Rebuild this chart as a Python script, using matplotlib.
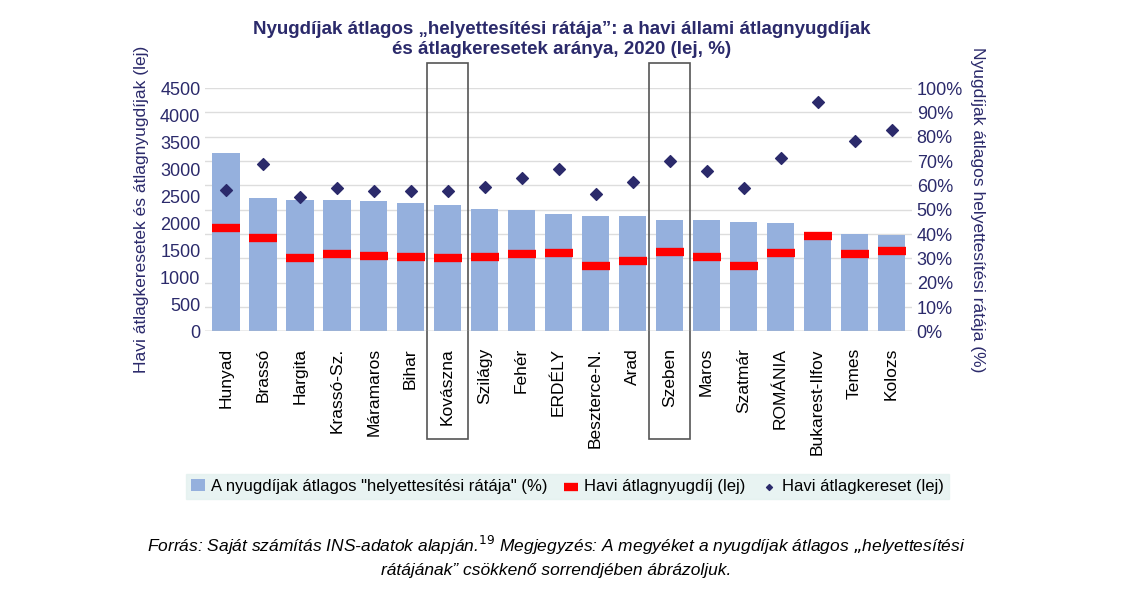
import matplotlib.pyplot as plt
import numpy as np
from matplotlib.patches import Rectangle

plt.rcParams["font.family"] = "Liberation Sans"

categories = ["Hunyad", "Brassó", "Hargita", "Krassó-Sz.", "Máramaros", "Bihar", "Kovászna",
              "Szilágy", "Fehér", "ERDÉLY", "Beszterce-N.", "Arad", "Szeben", "Maros",
              "Szatmár", "ROMÁNIA", "Bukarest-Ilfov", "Temes", "Kolozs"]
rate_pct = [73.3, 54.9, 54.0, 54.0, 53.6, 52.9, 51.8, 50.4, 50.0, 48.2, 47.3, 47.3, 45.8,
            45.8, 44.9, 44.4, 40.7, 40.2, 39.8]
pension = [1910, 1720, 1350, 1430, 1400, 1380, 1350, 1370, 1430, 1450, 1210, 1310, 1470,
           1370, 1210, 1450, 1770, 1430, 1490]
salary = [2620, 3100, 2490, 2650, 2600, 2600, 2590, 2680, 2840, 3000, 2550, 2760, 3160,
          2970, 2650, 3210, 4250, 3530, 3730]
boxed = ["Kovászna", "Szeben"]

navy = "#2b2a6b"
fig = plt.figure(figsize=(11.47, 6.08), dpi=100)
ax = fig.add_axes([0.179, 0.455, 0.616, 0.40])
ax2 = ax.twinx()
x = np.arange(len(categories))

ax2.bar(x, rate_pct, width=0.75, color="#95b0dd", zorder=1, label='A nyugdíjak átlagos "helyettesítési rátája" (%)')
ax2.set_ylim(0, 100)
ax.set_zorder(ax2.get_zorder() + 1)
ax.patch.set_visible(False)
ax.scatter(x, pension, marker="_", s=420, linewidths=6, color="#ff0000", label="Havi átlagnyugdíj (lej)")
ax.scatter(x, salary, marker="D", s=36, color=navy, label="Havi átlagkereset (lej)")
ax.set_ylim(0, 4500)
ax.set_xlim(-0.55, len(categories) - 0.45)
ax.set_yticks(range(0, 4501, 500))
ax2.set_yticks(range(0, 101, 10))
ax2.set_yticklabels([f"{v}%" for v in range(0, 101, 10)])
ax.set_xticks(x)
ax.set_xticklabels(categories, rotation=90, fontsize=12)
ax2.grid(axis="y", color="#dddddd", lw=1)
ax2.set_axisbelow(True)
for a in (ax, ax2):
    for s in a.spines.values():
        s.set_visible(False)
    a.tick_params(length=0, labelsize=13, colors=navy)
ax.tick_params(axis="x", colors="black", pad=12, labelsize=12.5)
ax.axhline(0, color="#bbbbbb", lw=1)
ax.set_ylabel("Havi átlagkeresetek és átlagnyugdíjak (lej)", fontsize=12.5, color=navy, labelpad=8)
ax2.set_ylabel("Nyugdíjak átlagos helyettesítési rátája (%)", fontsize=12.5, color=navy, rotation=270, labelpad=16)

for name in boxed:
    i = categories.index(name)
    ax.add_patch(Rectangle((i - 0.55, -1990), 1.1, 6950, fill=False, ec="#555555", lw=1.2, clip_on=False))

fig.text(0.49, 0.965, "Nyugdíjak átlagos „helyettesítési rátája”: a havi állami átlagnyugdíjak\nés átlagkeresetek aránya, 2020 (lej, %)",
         ha="center", va="top", fontsize=13.5, fontweight="bold", color=navy)

h1, l1 = ax2.get_legend_handles_labels()
h2, l2 = ax.get_legend_handles_labels()
leg = fig.legend(h1 + h2, l1 + l2, loc="center", bbox_to_anchor=(0.495, 0.2), ncol=3, fontsize=12,
                 frameon=True, fancybox=False, handlelength=0.8, columnspacing=1.0, handletextpad=0.4,
                 markerscale=0.5, borderpad=0.3)
leg.get_frame().set_facecolor("#e3f1ef")
leg.get_frame().set_edgecolor("#e3f1ef")

fig.text(0.485, 0.085, "Forrás: Saját számítás INS-adatok alapján.$^{19}$ Megjegyzés: A megyéket a nyugdíjak átlagos „helyettesítési\nrátájának” csökkenő sorrendjében ábrázoljuk.",
         ha="center", va="center", fontsize=12.5, style="italic", linespacing=1.5)

fig.savefig("out.png", dpi=100)
